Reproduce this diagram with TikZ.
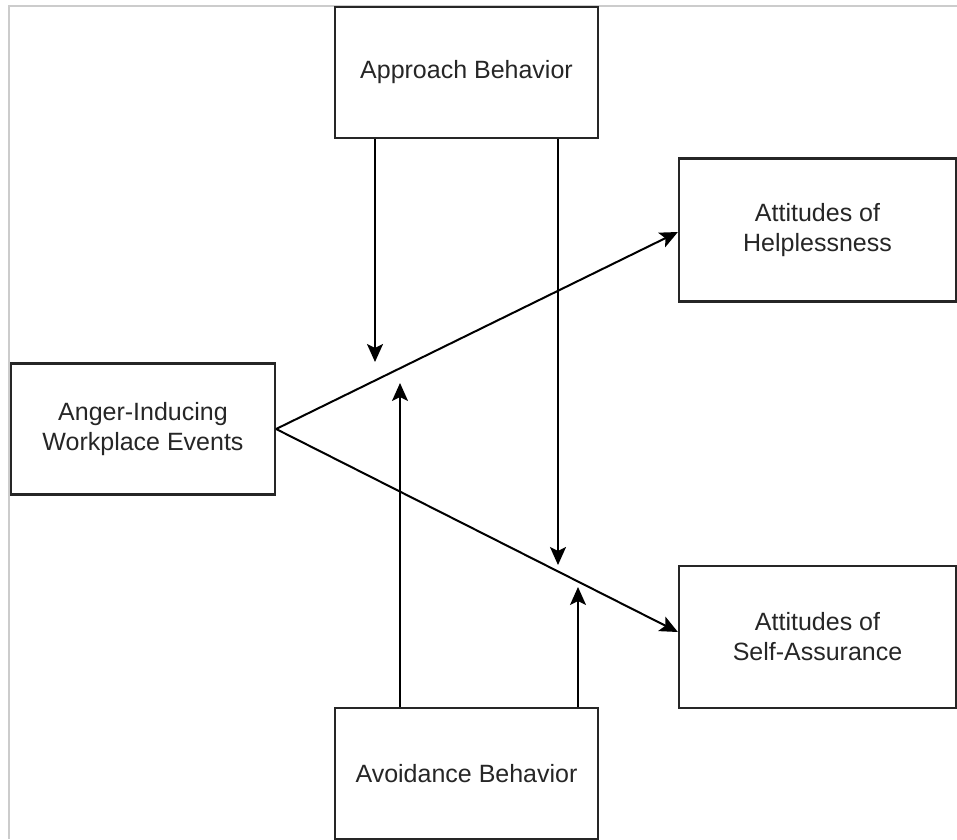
\documentclass[tikz,border=0pt]{standalone}
\usepackage{fontspec}
\setmainfont{Liberation Sans}
\usetikzlibrary{arrows.meta}
\begin{document}
\begin{tikzpicture}[x=1pt,y=-1pt,
  box/.style={draw=black!85, line width=2.2pt, fill=white, inner sep=0pt,
    align=center, text=black!85, font=\fontsize{25}{30}\selectfont},
  link/.style={draw=black, line width=2pt,
    -{Stealth[length=18pt,width=16pt,inset=4pt]}},
  frameline/.style={draw=black!20, line width=1.5pt}]
  \useasboundingbox (0,0) rectangle (957,839);
  % page frame
  \draw[frameline] (957,6) -- (9,6) -- (9,839);

  % boxes
  \node[box, minimum width=263pt, minimum height=131pt] (app) at (466.5,72.5) {Approach Behavior};
  \node[box, minimum width=264pt, minimum height=131pt] (ang) at (143,429) {Anger-Inducing\\Workplace Events};
  \node[box, minimum width=277pt, minimum height=143pt] (help) at (817.5,230) {Attitudes of\\Helplessness};
  \node[box, minimum width=277pt, minimum height=142pt] (self) at (817.5,637) {Attitudes of\\Self-Assurance};
  \node[box, minimum width=263pt, minimum height=131pt] (avo) at (466.5,773.5) {Avoidance Behavior};

  % moderator arrow ends
  \coordinate (t1) at (375,362);
  \coordinate (t2) at (558,565);
  \coordinate (t3) at (400,383);
  \coordinate (t4) at (578,587);

  % main paths
  \draw[link] (ang.east) -- (help.west |- 0,232);
  \draw[link] (ang.east) -- (self.west |- 0,632);

  % moderating arrows
  \draw[link] (app.south -| t1) -- (t1);
  \draw[link] (app.south -| t2) -- (t2);
  \draw[link] (avo.north -| t3) -- (t3);
  \draw[link] (avo.north -| t4) -- (t4);
\end{tikzpicture}
\end{document}
